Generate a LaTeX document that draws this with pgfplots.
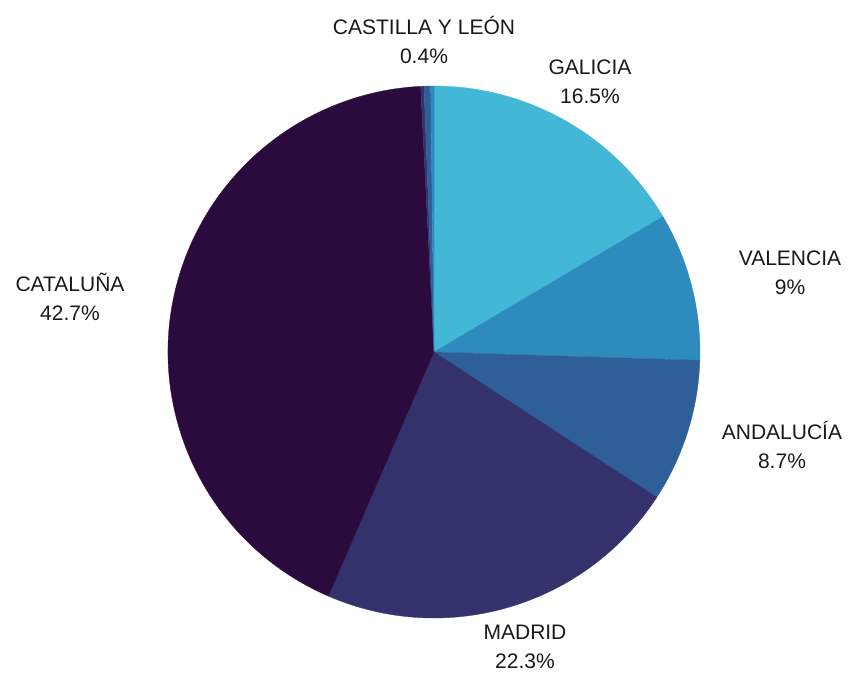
\documentclass[border=0pt]{standalone}
\usepackage{pgfplots}
\pgfplotsset{compat=1.18}
\usepackage{pgfplotstable}
\usepackage{fontspec}
\setmainfont{Liberation Sans}

\definecolor{cGal}{HTML}{42B7D6}
\definecolor{cVal}{HTML}{2E8BBE}
\definecolor{cAnd}{HTML}{2E5F98}
\definecolor{cMad}{HTML}{34326D}
\definecolor{cCat}{HTML}{2B0B3D}

% slices clockwise from 12 o'clock; lx,ly = label centre (pixel grid, y down)
\pgfplotstableread[col sep=comma]{
name,value,col,show,lx,ly
GALICIA,16.5,cGal,1,590,82
VALENCIA,9,cVal,1,790,273
ANDALUCÍA,8.7,cAnd,1,782,445
MADRID,22.3,cMad,1,525,647
CATALUÑA,42.7,cCat,1,70,297
OTHER1,0.2,cMad,0,0,0
CASTILLA Y LEÓN,0.4,cAnd,1,424,40
OTHER2,0.2,cVal,0,0,0
}\piedata

\begin{document}
\begin{tikzpicture}
\begin{axis}[
    scale only axis,
    width=863pt, height=675pt,
    xmin=0, xmax=863, ymin=0, ymax=675,
    hide axis,
    clip=false,
]
% keep the full frame as bounding box
\path[draw=none] (axis cs:0,0) rectangle (axis cs:863,675);
\pgfplotstablegetrowsof{\piedata}
\pgfmathtruncatemacro\lastrow{\pgfplotsretval-1}
\def\cx{434}\def\cy{323}\def\rr{266}
\def\cum{90}
\pgfplotsforeachungrouped \i in {0,...,\lastrow} {
    \pgfplotstablegetelem{\i}{value}\of\piedata \let\v\pgfplotsretval
    \pgfplotstablegetelem{\i}{col}\of\piedata \let\c\pgfplotsretval
    \pgfmathsetmacro\a{\cum}
    \pgfmathsetmacro\b{\cum-3.6*\v}
    \pgfmathsetmacro\xa{\cx+\rr*cos(\a)}
    \pgfmathsetmacro\ya{\cy+\rr*sin(\a)}
    \edef\temp{\noexpand\fill[\c, draw=\c, line width=0.3pt] (axis cs:\cx,\cy) -- (axis cs:\xa,\ya)
        arc[start angle=\a, end angle=\b, radius=\rr pt] -- cycle;}
    \temp
    \global\let\cum\b
}
\pgfplotsforeachungrouped \i in {0,...,\lastrow} {
    \pgfplotstablegetelem{\i}{show}\of\piedata \let\s\pgfplotsretval
    \ifnum\s=1
        \pgfplotstablegetelem{\i}{name}\of\piedata \let\n\pgfplotsretval
        \pgfplotstablegetelem{\i}{value}\of\piedata \let\v\pgfplotsretval
        \pgfplotstablegetelem{\i}{lx}\of\piedata \let\lx\pgfplotsretval
        \pgfplotstablegetelem{\i}{ly}\of\piedata \let\ly\pgfplotsretval
        \pgfmathsetmacro\lyy{675-\ly}
        \edef\temp{\noexpand\node[align=center, font=\noexpand\fontsize{21}{29}\noexpand\selectfont, text=black!90]
            at (axis cs:\lx,\lyy) {\n\noexpand\\\v\noexpand\%};}
        \temp
    \fi
}
\end{axis}
\end{tikzpicture}
\end{document}
